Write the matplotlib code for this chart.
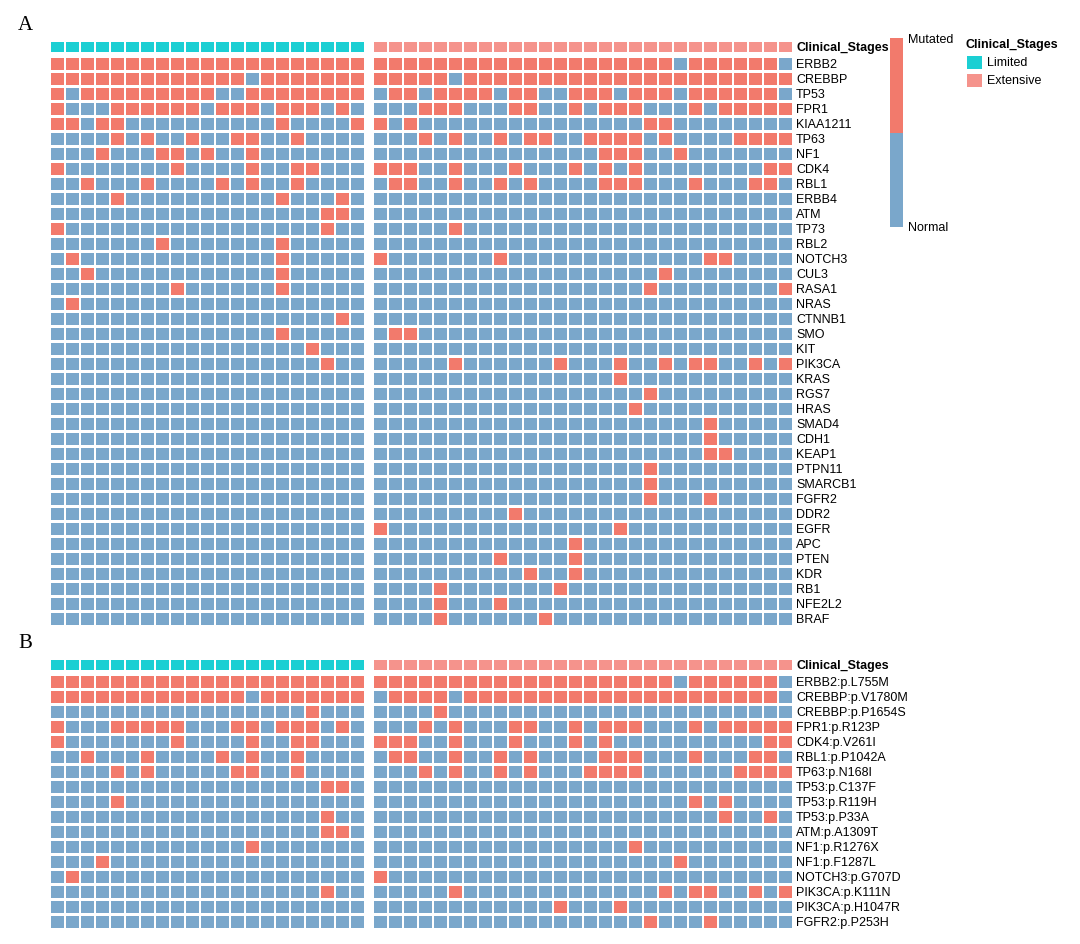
import matplotlib
matplotlib.use("Agg")
import matplotlib.pyplot as plt
from matplotlib.patches import Rectangle
from matplotlib.collections import PatchCollection

# ---------------- data ----------------
n_limited = 21
n_extensive = 28
stages = ["Limited", "Extensive"]

genes_A = ["ERBB2", "CREBBP", "TP53", "FPR1", "KIAA1211", "TP63", "NF1", "CDK4", "RBL1",
           "ERBB4", "ATM", "TP73", "RBL2", "NOTCH3", "CUL3", "RASA1", "NRAS", "CTNNB1",
           "SMO", "KIT", "PIK3CA", "KRAS", "RGS7", "HRAS", "SMAD4", "CDH1", "KEAP1",
           "PTPN11", "SMARCB1", "FGFR2", "DDR2", "EGFR", "APC", "PTEN", "KDR", "RB1",
           "NFE2L2", "BRAF"]

# mutated column indices (Limited group, 0..20)
mut_A_limited = [
    [0, 1, 2, 3, 4, 5, 6, 7, 8, 9, 10, 11, 12, 13, 14, 15, 16, 17, 18, 19, 20],  # ERBB2
    [0, 1, 2, 3, 4, 5, 6, 7, 8, 9, 10, 11, 12, 14, 15, 16, 17, 18, 19, 20],      # CREBBP
    [0, 2, 3, 4, 5, 6, 7, 8, 9, 10, 13, 14, 15, 16, 17, 18, 19, 20],             # TP53
    [0, 4, 5, 6, 7, 8, 9, 11, 12, 13, 15, 16, 17, 19],                           # FPR1
    [0, 1, 3, 4, 15, 20],                                                        # KIAA1211
    [4, 6, 9, 12, 13, 16],                                                       # TP63
    [3, 7, 8, 10, 13],                                                           # NF1
    [0, 8, 13, 16, 17],                                                          # CDK4
    [2, 6, 11, 13, 16],                                                          # RBL1
    [4, 15, 19],                                                                 # ERBB4
    [18, 19],                                                                    # ATM
    [0, 18],                                                                     # TP73
    [7, 15],                                                                     # RBL2
    [1, 15],                                                                     # NOTCH3
    [2, 15],                                                                     # CUL3
    [8, 15],                                                                     # RASA1
    [1],                                                                         # NRAS
    [19],                                                                        # CTNNB1
    [15],                                                                        # SMO
    [17],                                                                        # KIT
    [18],                                                                        # PIK3CA
    [], [], [], [], [], [], [], [], [], [], [], [], [], [], [], [], [],          # KRAS..BRAF
]

# mutated column indices (Extensive group, 0..27)
mut_A_extensive = [
    [0, 1, 2, 3, 4, 5, 6, 7, 8, 9, 10, 11, 12, 13, 14, 15, 16, 17, 18, 19, 21, 22, 23, 24, 25, 26],  # ERBB2
    [0, 1, 2, 3, 4, 6, 7, 8, 9, 10, 11, 12, 13, 14, 15, 16, 17, 18, 19, 20, 21, 22, 23, 24, 25, 26, 27],  # CREBBP
    [1, 2, 4, 5, 6, 7, 9, 10, 13, 14, 15, 17, 18, 19, 21, 22, 23, 24, 25, 26],  # TP53
    [3, 4, 5, 9, 10, 13, 15, 16, 17, 21, 23, 24, 25, 26, 27],                    # FPR1
    [0, 2, 18, 19],                                                              # KIAA1211
    [3, 5, 8, 10, 11, 14, 15, 16, 17, 19, 24, 25, 26, 27],                       # TP63
    [15, 16, 17, 20],                                                            # NF1
    [0, 1, 2, 5, 9, 13, 15, 17, 26, 27],                                         # CDK4
    [1, 2, 5, 8, 10, 15, 16, 17, 21, 25, 26],                                    # RBL1
    [],                                                                          # ERBB4
    [],                                                                          # ATM
    [5],                                                                         # TP73
    [],                                                                          # RBL2
    [0, 8, 22, 23],                                                              # NOTCH3
    [19],                                                                        # CUL3
    [18, 27],                                                                    # RASA1
    [],                                                                          # NRAS
    [],                                                                          # CTNNB1
    [1, 2],                                                                      # SMO
    [],                                                                          # KIT
    [5, 12, 16, 19, 21, 22, 25, 27],                                             # PIK3CA
    [16],                                                                        # KRAS
    [18],                                                                        # RGS7
    [17],                                                                        # HRAS
    [22],                                                                        # SMAD4
    [22],                                                                        # CDH1
    [22, 23],                                                                    # KEAP1
    [18],                                                                        # PTPN11
    [18],                                                                        # SMARCB1
    [18, 22],                                                                    # FGFR2
    [9],                                                                         # DDR2
    [0, 16],                                                                     # EGFR
    [13],                                                                        # APC
    [8, 13],                                                                     # PTEN
    [10, 13],                                                                    # KDR
    [4, 12],                                                                     # RB1
    [4, 8],                                                                      # NFE2L2
    [4, 11],                                                                     # BRAF
]

genes_B = ["ERBB2:p.L755M", "CREBBP:p.V1780M", "CREBBP:p.P1654S", "FPR1:p.R123P",
           "CDK4:p.V261I", "RBL1:p.P1042A", "TP63:p.N168I", "TP53:p.C137F",
           "TP53:p.R119H", "TP53:p.P33A", "ATM:p.A1309T", "NF1:p.R1276X",
           "NF1:p.F1287L", "NOTCH3:p.G707D", "PIK3CA:p.K111N", "PIK3CA:p.H1047R",
           "FGFR2:p.P253H"]

mut_B_limited = [
    [0, 1, 2, 3, 4, 5, 6, 7, 8, 9, 10, 11, 12, 13, 14, 15, 16, 17, 18, 19, 20],
    [0, 1, 2, 3, 4, 5, 6, 7, 8, 9, 10, 11, 12, 14, 15, 16, 17, 18, 19, 20],
    [17],
    [0, 4, 5, 6, 7, 8, 12, 13, 15, 16, 17, 19],
    [0, 8, 13, 16, 17],
    [2, 6, 11, 13, 16],
    [4, 6, 12, 13, 16],
    [18, 19],
    [4],
    [18],
    [18, 19],
    [13],
    [3],
    [1],
    [18],
    [],
    [],
]

mut_B_extensive = [
    [0, 1, 2, 3, 4, 5, 6, 7, 8, 9, 10, 11, 12, 13, 14, 15, 16, 17, 18, 19, 21, 22, 23, 24, 25, 26],
    [1, 2, 3, 4, 6, 7, 8, 9, 10, 11, 12, 13, 14, 15, 16, 17, 18, 19, 20, 21, 22, 23, 24, 25, 26],
    [4],
    [3, 5, 9, 10, 13, 15, 16, 17, 21, 23, 24, 25, 26, 27],
    [0, 1, 2, 5, 9, 13, 15, 26, 27],
    [1, 2, 5, 8, 10, 15, 16, 17, 21, 25, 26],
    [3, 5, 8, 10, 14, 15, 16, 17, 24, 25, 26, 27],
    [],
    [21, 23],
    [23, 26],
    [],
    [17],
    [20],
    [0],
    [5, 19, 21, 22, 25, 27],
    [12, 16],
    [18, 22],
]

# ---------------- style ----------------
C_MUT = "#F27A6C"
C_NORM = "#7AA7CB"
C_LIM = "#1BCFD3"
C_EXT = "#F5938C"

W, H = 1080, 945
fig = plt.figure(figsize=(W / 100, H / 100), dpi=100)
plt.rcParams['font.family'] = ['Liberation Sans', 'DejaVu Sans']

UNIT = 15.0          # pixels per cell
GAP = 8.0 / UNIT     # gap between the two stage groups (cell units)
CELL = 0.82
INS = (1 - CELL) / 2
LEFT_PX = 50.0


def col_x(group, idx):
    return idx if group == 0 else n_limited + GAP + idx


def draw_panel(block_top_px, genes, mut_lim, mut_ext, letter):
    n_rows = len(genes)
    total_w = n_limited + GAP + n_extensive
    y_top = -1.2
    y_bot = n_rows
    top_px = block_top_px + y_top * UNIT
    h_px = (y_bot - y_top) * UNIT
    w_px = total_w * UNIT
    ax = fig.add_axes([LEFT_PX / W, 1 - (top_px + h_px) / H, w_px / W, h_px / H])
    ax.set_xlim(0, total_w)
    ax.set_ylim(y_bot, y_top)
    ax.axis("off")

    patches, colors = [], []
    # annotation row
    for g, n in enumerate([n_limited, n_extensive]):
        for i in range(n):
            patches.append(Rectangle((col_x(g, i) + INS, -0.985), CELL, 0.67))
            colors.append(C_LIM if g == 0 else C_EXT)
    # mutation matrix
    for r in range(n_rows):
        for g, (n, muts) in enumerate([(n_limited, mut_lim[r]), (n_extensive, mut_ext[r])]):
            for i in range(n):
                patches.append(Rectangle((col_x(g, i) + INS, r + INS), CELL, CELL))
                colors.append(C_MUT if i in muts else C_NORM)
    pc = PatchCollection(patches, facecolors=colors, edgecolors="none")
    ax.add_collection(pc)

    tx = total_w + 0.2
    ax.text(tx, -0.65, "Clinical_Stages", ha="left", va="center", fontsize=9,
            fontweight="bold", clip_on=False)
    for r, g in enumerate(genes):
        ax.text(tx, r + 0.5, g, ha="left", va="center", fontsize=9, clip_on=False)

    fig.text(25 / W, 1 - (block_top_px - 32) / H, letter, ha="center", va="center",
             fontsize=15, family="Liberation Serif")
    return ax


draw_panel(57.5, genes_A, mut_A_limited, mut_A_extensive, "A")
draw_panel(675.8, genes_B, mut_B_limited, mut_B_extensive, "B")

# discrete colour bar (Mutated / Normal)
bar_states = ["Normal", "Mutated"]
bar_colors = [C_NORM, C_MUT]
cax = fig.add_axes([890 / W, 1 - 228 / H, 13 / W, 189 / H])
cax.bar([0, 0], [1, 1], bottom=[0, 1], width=1, color=bar_colors)
cax.set_xlim(-0.5, 0.5)
cax.set_ylim(0, 2)
cax.axis("off")
fig.text(908 / W, 1 - 40 / H, bar_states[1], ha="left", va="center", fontsize=9)
fig.text(908 / W, 1 - 228 / H, bar_states[0], ha="left", va="center", fontsize=9)

# Clinical stage legend
fig.text(966 / W, 1 - 45 / H, "Clinical_Stages", ha="left", va="center",
         fontsize=9, fontweight="bold")
for k, (lab, col) in enumerate(zip(stages, [C_LIM, C_EXT])):
    y0 = 57 + k * 17.5
    fig.add_artist(Rectangle((967 / W, 1 - (y0 + 13) / H), 15 / W, 13 / H,
                             transform=fig.transFigure, facecolor=col, edgecolor="none"))
    fig.text(987 / W, 1 - (y0 + 6.5) / H, lab, ha="left", va="center", fontsize=9)

fig.savefig("out.png", dpi=100, facecolor="white")
